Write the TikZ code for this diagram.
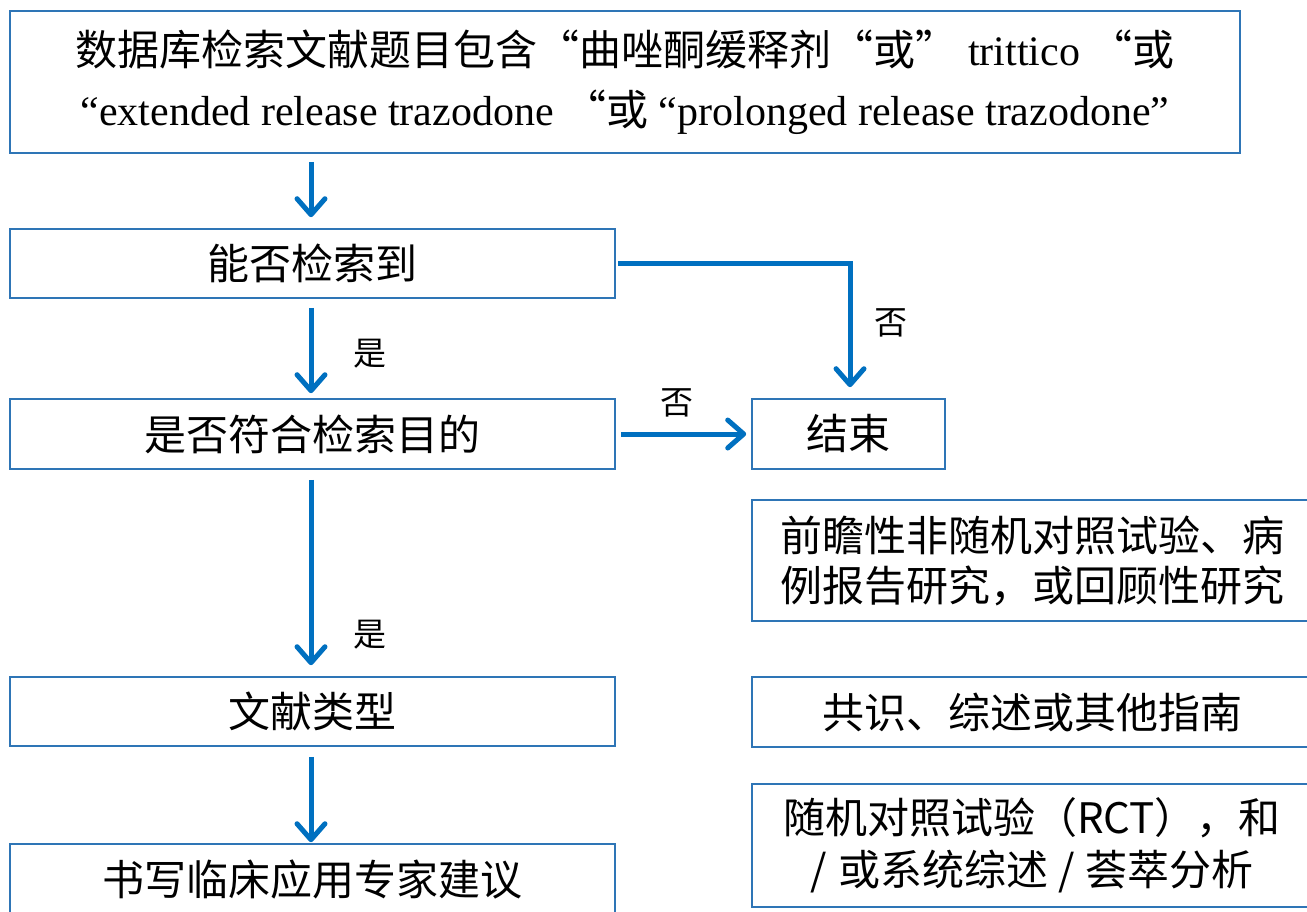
\documentclass[tikz,border=0pt]{standalone}
\usepackage{fontspec}
\setmainfont{Liberation Serif}
\newfontfamily\cjk{Noto Sans CJK SC}
\usetikzlibrary{arrows.meta,calc}
\definecolor{arrblue}{HTML}{0070C0}
\definecolor{boxblue}{HTML}{2E75B6}
\tikzset{
  box/.style={draw=boxblue,line width=1.6pt,inner sep=0pt,align=center,
    font=\cjk\fontsize{42}{50}\selectfont},
  arr/.style={draw=arrblue,line width=5pt,
    -{Straight Barb[length=16pt,width=28pt,round]}},
  lbl/.style={font=\cjk\fontsize{33}{36}\selectfont,inner sep=0pt}
}
\begin{document}
\begin{tikzpicture}[x=1pt,y=-1pt]
\useasboundingbox (0,0) rectangle (1307,911);
\clip (0,0) rectangle (1307,911);
\fill[white] (0,0) rectangle (1307,911);
\coordinate (axis) at (311,0);
\node[box,minimum width=1230pt,minimum height=142pt,font=\fontsize{42}{60}\selectfont] (top) at (625,82)
  {{\cjk 数据库检索文献题目包含“曲唑酮缓释剂“或”} trittico {\cjk “或}\\
   “extended release trazodone {\cjk “或} “prolonged release trazodone”};
\node[box,minimum width=605pt,minimum height=69pt] (q1) at (312.5,263.5) {能否检索到};
\node[box,minimum width=605pt,minimum height=70pt] (q2) at (312.5,434) {是否符合检索目的};
\node[box,minimum width=193pt,minimum height=70pt] (end) at (848.5,434) {结束};
\node[box,minimum width=605pt,minimum height=69pt] (type) at (312.5,711.5) {文献类型};
\node[box,minimum width=605pt,minimum height=72pt] (write) at (312.5,880) {书写临床应用专家建议};
\node[box,minimum width=560pt,minimum height=121pt] (r1) at (1032,560.5)
  {前瞻性非随机对照试验、病\\例报告研究，或回顾性研究};
\node[box,minimum width=560pt,minimum height=123pt,font=\cjk\fontsize{42}{52}\selectfont] (r3) at (1032,845.5)
  {随机对照试验（RCT），和\\/\hspace{12pt}或系统综述\hspace{10pt}/\hspace{10pt}荟萃分析};
\node[box,minimum width=560pt,minimum height=70pt] (r2) at (1032,712) {共识、综述或其他指南};
\draw[arr,shorten <=8pt,shorten >=11pt] (top.south -| axis) -- (q1.north -| axis);
\draw[arr,shorten <=9pt,shorten >=5pt] (q1.south -| axis) -- node[lbl,right=40pt,pos=0.55] (y1) {是} (q2.north -| axis);
\draw[arr,shorten <=10pt,shorten >=11pt] (q2.south -| axis) -- node[lbl,right=40pt,pos=0.8] (y2) {是} (type.north -| axis);
\draw[arr,shorten <=10pt,shorten >=1pt] (type.south -| axis) -- (write.north -| axis);
\coordinate (e1) at ($(end.north)+(1.5,0)$);
\draw[arr,shorten <=2pt,shorten >=11pt] (q1.east) -| node[lbl,pos=0.72,right=22pt] (n1) {否} (e1);
\draw[arr,shorten <=5pt,shorten >=5pt] (q2.east) -- node[lbl,above=14pt,pos=0.45] (n2) {否} (end.west);
\end{tikzpicture}
\end{document}
